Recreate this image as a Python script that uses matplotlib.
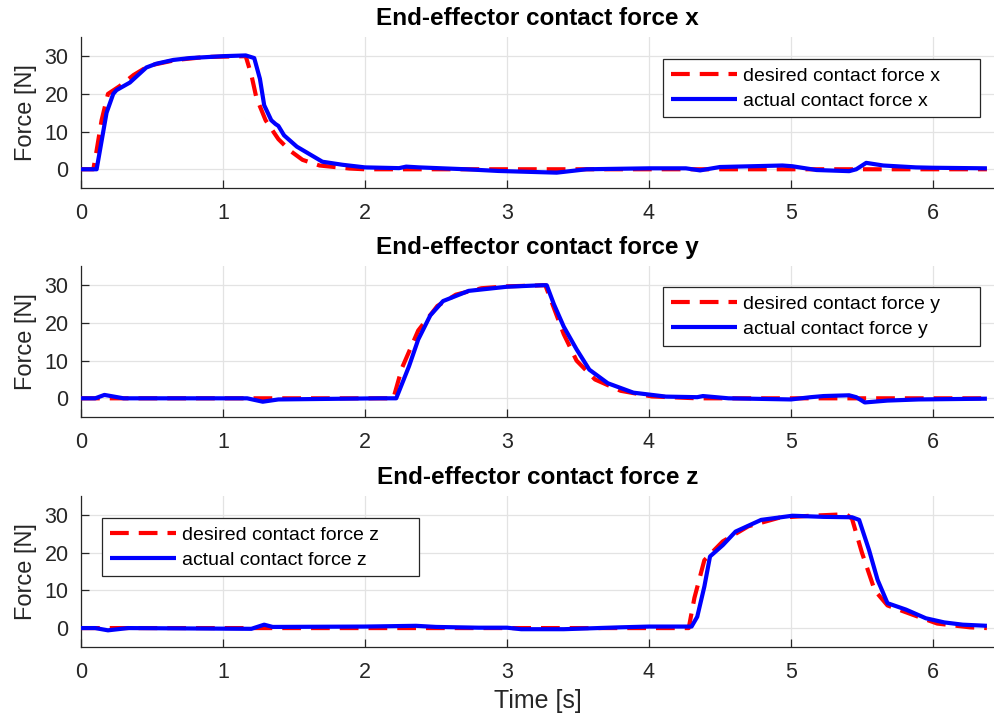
import matplotlib
matplotlib.use("Agg")
import matplotlib.pyplot as plt

plt.rcParams['font.family'] = ['Liberation Sans', 'DejaVu Sans']

# contact force in x
t_des_x = [0, 0.087, 0.11, 0.145, 0.19, 0.27, 0.37, 0.48, 0.67, 0.88, 1.16, 1.20, 1.235,
           1.30, 1.39, 1.47, 1.56, 1.68, 1.89, 2.0, 6.38]
f_des_x = [0, 0, 5, 13, 20, 22, 25, 27.5, 29, 29.8, 30, 25, 19,
           13, 8, 5, 2.5, 1, 0.2, 0, 0]
t_act_x = [0, 0.11, 0.18, 0.227, 0.25, 0.344, 0.46, 0.53, 0.65, 0.766, 1.0, 1.16, 1.22,
           1.26, 1.29, 1.34, 1.37, 1.39, 1.43, 1.52, 1.61, 1.70, 1.84, 2.0, 2.24, 2.29,
           2.38, 2.71, 2.94, 3.35, 3.56, 4.0, 4.26, 4.36, 4.5, 4.94, 5.01, 5.18, 5.41,
           5.46, 5.53, 5.65, 5.88, 6.0, 6.38]
f_act_x = [0, 0, 15, 20, 21, 23, 27, 28, 29, 29.5, 30, 30.2, 29.5,
           24, 17, 13, 12, 11.5, 9, 6, 4, 2, 1.2, 0.5, 0.3, 0.7,
           0.5, 0, -0.45, -0.9, 0, 0.25, 0.25, -0.3, 0.6, 1.0, 0.8, -0.2, -0.5,
           0, 1.7, 1.0, 0.5, 0.4, 0.25]

# contact force in y
t_des_y = [0, 2.2, 2.26, 2.375, 2.51, 2.64, 2.82, 3.0, 3.27, 3.31, 3.40, 3.49, 3.62,
           3.80, 4.02, 4.34, 6.38]
f_des_y = [0, 0, 8, 18, 24.5, 27.5, 29.2, 29.7, 30, 26, 17, 10, 5,
           2, 0.5, 0, 0]
t_act_y = [0, 0.1, 0.165, 0.3, 1.17, 1.28, 1.39, 2.1, 2.22, 2.31, 2.375, 2.46, 2.55,
           2.73, 3.0, 3.25, 3.28, 3.33, 3.40, 3.49, 3.58, 3.71, 3.89, 4.12, 4.34, 4.38,
           4.56, 5.0, 5.14, 5.23, 5.41, 5.46, 5.52, 5.68, 5.9, 6.38]
f_act_y = [0, 0, 0.9, 0, 0, -0.9, -0.3, 0, 0, 8.5, 15.6, 22, 25.8,
           28.5, 29.6, 30, 30, 25, 19, 13, 7.6, 4, 1.5, 0.45, 0.3, 0.6,
           0, -0.3, 0.3, 0.6, 0.8, 0.3, -1.1, -0.6, -0.3, -0.1]

# contact force in z
t_des_z = [0, 4.28, 4.32, 4.39, 4.52, 4.70, 4.92, 5.14, 5.39, 5.43, 5.50, 5.59, 5.68,
           5.86, 6.03, 6.26, 6.38]
f_des_z = [0, 0, 8, 18, 23, 27, 29.3, 29.8, 30.2, 29, 20, 10, 6,
           3.5, 1.2, 0.2, 0]
t_act_z = [0, 0.1, 0.19, 0.33, 1.2, 1.29, 1.35, 2.0, 2.36, 2.5, 2.8, 3.0, 3.1,
           3.4, 3.8, 4.0, 4.3, 4.34, 4.39, 4.43, 4.52, 4.61, 4.79, 5.01, 5.23, 5.43,
           5.48, 5.55, 5.61, 5.68, 5.81, 5.95, 6.08, 6.21, 6.38]
f_act_z = [0, 0, -0.6, 0, -0.2, 0.9, 0.3, 0.4, 0.6, 0.3, 0.1, 0.1, -0.3,
           -0.3, 0.2, 0.4, 0.4, 3, 11, 19, 22, 25.6, 28.7, 29.8, 29.5, 29.4,
           28.7, 20.7, 12.8, 6.6, 4.9, 2.6, 1.5, 0.9, 0.6]

axis_names = ['x', 'y', 'z']
panels = [(t_des_x, f_des_x, t_act_x, f_act_x),
          (t_des_y, f_des_y, t_act_y, f_act_y),
          (t_des_z, f_des_z, t_act_z, f_act_z)]
bottoms = [0.738, 0.419, 0.099]
# legend boxes (x0, y_top) in axes coords
legend_pos = [(0.6375, 0.855), (0.6375, 0.86), (0.023, 0.854)]

dark = '#262626'
fig = plt.figure(figsize=(9.94, 7.18), dpi=100)

for i, name in enumerate(axis_names):
    td, fd, ta, fa = panels[i]
    ax = fig.add_axes([0.0815, bottoms[i], 0.9185, 0.21])
    ax.plot(td, fd, color='#ff0000', lw=3, linestyle=(0, (4.5, 2.4)),
            label='desired contact force ' + name, zorder=3)
    ax.plot(ta, fa, color='#0000ff', lw=3, solid_capstyle='butt',
            label='actual contact force ' + name, zorder=4)
    ax.set_xlim(0, 6.43)
    ax.set_ylim(-5, 35)
    ax.set_yticks([0, 10, 20, 30])
    ax.set_xticks([0, 1, 2, 3, 4, 5, 6])
    ax.grid(True, color='#e3e3e3', lw=0.9)
    ax.set_axisbelow(True)
    for s in ['top', 'right']:
        ax.spines[s].set_visible(False)
    for s in ['left', 'bottom']:
        ax.spines[s].set_color(dark)
        ax.spines[s].set_linewidth(0.9)
    ax.tick_params(direction='in', length=6, width=0.9, colors=dark,
                   labelsize=15.5)
    ax.tick_params(axis='x', pad=10.5)
    ax.tick_params(axis='y', pad=9)
    ax.set_ylabel('Force [N]', fontsize=17, color=dark, labelpad=5)
    ax.set_title('End-effector contact force ' + name, fontsize=17.5,
                 fontweight='bold', pad=9)
    x0, y1 = legend_pos[i]
    leg = ax.legend(loc='upper left', bbox_to_anchor=(x0, y1 - 0.38, 0.347, 0.38),
                    mode='expand', borderaxespad=0, fontsize=14, fancybox=False,
                    framealpha=1, edgecolor=dark, handlelength=3.4,
                    handletextpad=0.3, borderpad=0.4, labelspacing=0.38)
    leg.get_frame().set_linewidth(0.9)
    if i == 2:
        ax.set_xlabel('Time [s]', fontsize=18, color=dark, labelpad=5)

fig.savefig('out.png', dpi=100)
